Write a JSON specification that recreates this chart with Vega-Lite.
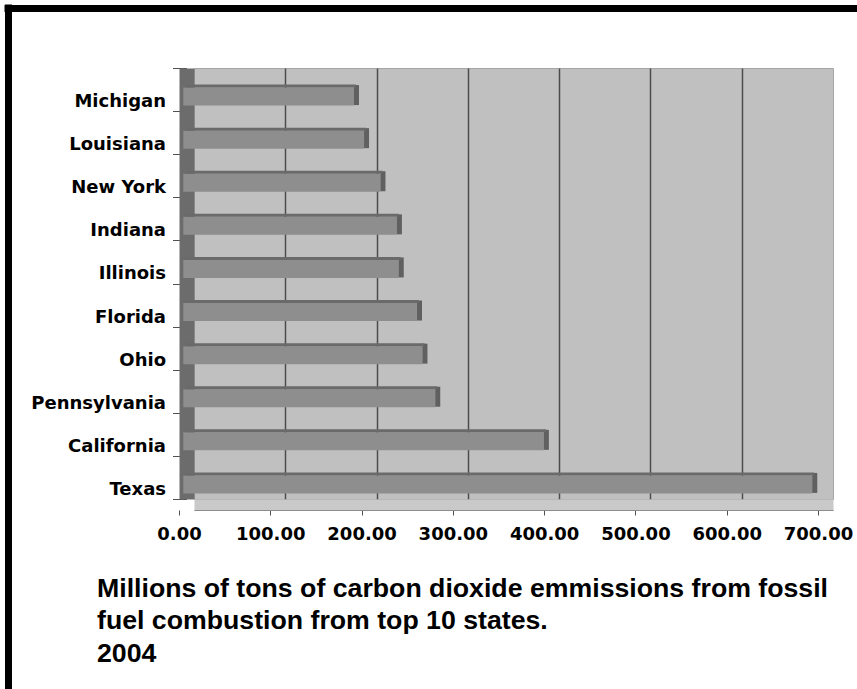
{
  "$schema": "https://vega.github.io/schema/vega-lite/v6.json",
  "width": 639,
  "height": 431,
  "autosize": {"type": "none"},
  "padding": {"left": 194, "top": 68, "right": 24, "bottom": 190},
  "background": "white",
  "view": {"fill": "#c0c0c0", "stroke": "#a5a5a5", "strokeWidth": 1},
  "title": {
    "text": ["Millions of tons of carbon dioxide emmissions from fossil", "fuel combustion from top 10 states.", "2004"],
    "orient": "bottom",
    "anchor": "start",
    "frame": "group",
    "dx": -97,
    "offset": -117,
    "font": "Liberation Sans",
    "fontSize": 26.7,
    "fontWeight": "bold",
    "color": "#000000",
    "lineHeight": 32.5
  },
  "data": {
    "values": [
      {"state": "Michigan", "value": 187},
      {"state": "Louisiana", "value": 198},
      {"state": "New York", "value": 216},
      {"state": "Indiana", "value": 234},
      {"state": "Illinois", "value": 236},
      {"state": "Florida", "value": 256},
      {"state": "Ohio", "value": 262},
      {"state": "Pennsylvania", "value": 276},
      {"state": "California", "value": 395},
      {"state": "Texas", "value": 689}
    ]
  },
  "layer": [
    {
      "mark": {"type": "bar", "height": 18, "yOffset": 7, "xOffset": -10.7, "x2Offset": -10.7, "color": "#8e8e8e"},
      "encoding": {
        "y": {
          "field": "state", "type": "nominal",
          "sort": ["Michigan", "Louisiana", "New York", "Indiana", "Illinois", "Florida", "Ohio", "Pennsylvania", "California", "Texas"],
          "scale": {"type": "band", "paddingInner": 0, "paddingOuter": 0},
          "axis": {"orient": "left", "offset": 7.5, "domainWidth": 15, "domainColor": "#6c6c6c", "tickBand": "extent", "tickOffset": 11, "tickSize": 14, "tickColor": "#505050", "labelPadding": 7, "labelOffset": 12, "title": null}
        },
        "x": {
          "field": "value", "type": "quantitative",
          "scale": {"domain": [0, 700], "nice": false},
          "axis": {"orient": "bottom", "grid": true, "gridColor": "#4c4c4c", "gridWidth": 1.5, "values": [100, 200, 300, 400, 500, 600], "ticks": false, "labels": false, "domain": false, "title": null}
        }
      }
    },
    {
      "mark": {"type": "tick", "thickness": 5, "size": 20, "xOffset": -8.2, "yOffset": 5.5, "color": "#383838"},
      "encoding": {
        "y": {
          "field": "state", "type": "nominal",
          "sort": ["Michigan", "Louisiana", "New York", "Indiana", "Illinois", "Florida", "Ohio", "Pennsylvania", "California", "Texas"],
          "axis": {"orient": "left", "offset": -670, "values": ["Michigan"], "bandPosition": 0, "tickOffset": -60.5, "tickSize": 860, "tickWidth": 7, "tickColor": "#000000", "labels": false, "domain": false, "grid": false, "title": null}
        },
        "x": {
          "field": "value", "type": "quantitative",
          "axis": {"orient": "bottom", "offset": 11, "tickOffset": -15, "tickSize": 5, "tickColor": "#505050", "values": [0, 100, 200, 300, 400, 500, 600, 700], "format": ".2f", "labelPadding": 10, "labelFlush": false, "labelOverlap": false, "domain": true, "domainColor": "#505050", "grid": false, "title": null}
        }
      }
    },
    {
      "mark": {"type": "bar", "height": 3, "yOffset": -3.5, "xOffset": -8.7, "x2Offset": -8.7, "color": "#6a6a6a"},
      "encoding": {
        "y": {
          "field": "state", "type": "nominal",
          "sort": ["Michigan", "Louisiana", "New York", "Indiana", "Illinois", "Florida", "Ohio", "Pennsylvania", "California", "Texas"],
          "axis": null
        },
        "x": {
          "field": "value", "type": "quantitative",
          "axis": {"orient": "bottom", "offset": 5.5, "domainWidth": 11, "domainColor": "#c9c9c9", "ticks": false, "labels": false, "grid": false, "title": null}
        }
      }
    },
    {
      "mark": {"type": "bar", "height": 18, "opacity": 0},
      "encoding": {
        "y": {
          "field": "state", "type": "nominal",
          "sort": ["Michigan", "Louisiana", "New York", "Indiana", "Illinois", "Florida", "Ohio", "Pennsylvania", "California", "Texas"],
          "axis": null
        },
        "x": {
          "field": "value", "type": "quantitative",
          "axis": {"orient": "bottom", "offset": -495, "values": [0], "tickOffset": -186.5, "tickSize": 685, "tickWidth": 7, "tickColor": "#000000", "labels": false, "domain": false, "grid": false, "title": null}
        }
      }
    }
  ],
  "resolve": {"axis": {"x": "independent", "y": "independent"}},
  "config": {
    "axis": {"labelFont": "DejaVu Sans", "labelFontWeight": "bold", "labelFontSize": 18, "labelColor": "#000000"}
  }
}
